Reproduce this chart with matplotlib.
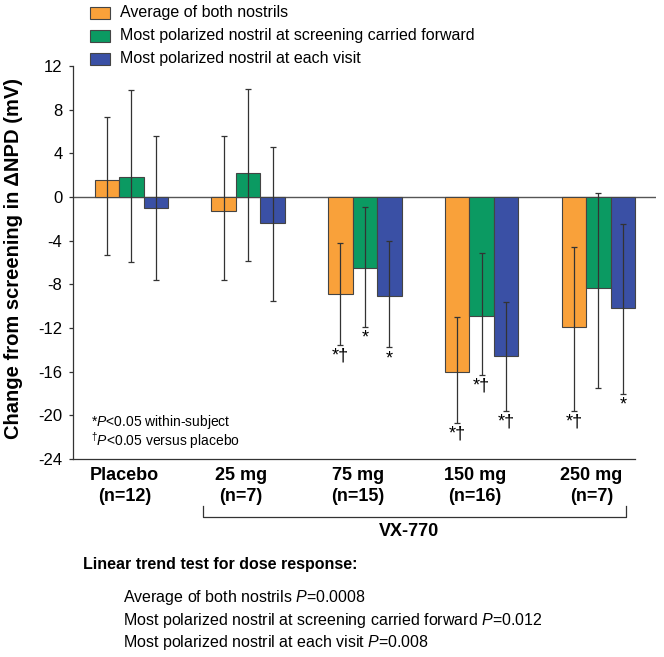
import matplotlib.pyplot as plt
import matplotlib.transforms as mtransforms
from matplotlib.patches import Rectangle
import numpy as np

plt.rcParams['font.family'] = ['Liberation Sans', 'DejaVu Sans']
plt.rcParams['mathtext.fontset'] = 'custom'
plt.rcParams['mathtext.rm'] = 'Liberation Sans'
plt.rcParams['mathtext.it'] = 'Liberation Sans:italic'
plt.rcParams['axes.unicode_minus'] = False

# datos
groups = ['Placebo\n(n=12)', '25 mg\n(n=7)', '75 mg\n(n=15)', '150 mg\n(n=16)', '250 mg\n(n=7)']
series = ['Average of both nostrils',
          'Most polarized nostril at screening carried forward',
          'Most polarized nostril at each visit']
colors = ['#F9A13A', '#0B9A62', '#3A50A5']

avg_both = [1.56, -1.25, -8.9, -16.0, -11.93]
avg_upper = [7.35, 5.59, -4.18, -11.0, -4.55]
avg_lower = [-5.3, -7.6, -13.55, -20.67, -19.57]

scr_fwd = [1.86, 2.17, -6.47, -10.9, -8.36]
scr_upper = [9.8, 9.86, -0.89, -5.16, 0.4]
scr_lower = [-5.92, -5.83, -11.88, -16.33, -17.52]

each_visit = [-1.04, -2.41, -9.04, -14.53, -10.19]
vis_upper = [5.59, 4.6, -4.0, -9.64, -2.5]
vis_lower = [-7.6, -9.5, -13.77, -19.57, -18.04]

sig_avg = ['', '', '*\u2020', '*\u2020', '*\u2020']
sig_scr = ['', '', '*', '*\u2020', '']
sig_vis = ['', '', '*', '*\u2020', '*']

yticks = [-24, -20, -16, -12, -8, -4, 0, 4, 8, 12]

trend_lines = ['Average of both nostrils $P$=0.0008',
               'Most polarized nostril at screening carried forward $P$=0.012',
               'Most polarized nostril at each visit $P$=0.008']

W, H = 664, 657
fig = plt.figure(figsize=(W / 100, H / 100), dpi=100)
ax = fig.add_axes([72.9 / W, 1 - 459 / H, (656 - 72.9) / W, (459 - 66) / H])

def fx(px):
    return px / W

def fy(py):
    return 1 - py / H

x = np.arange(len(groups))
bw = 0.21
vals = [avg_both, scr_fwd, each_visit]
uppers = [avg_upper, scr_upper, vis_upper]
lowers = [avg_lower, scr_lower, vis_lower]
sigs = [sig_avg, sig_scr, sig_vis]

for k in range(3):
    xs = x + (k - 1) * bw
    v = np.array(vals[k])
    up = np.array(uppers[k])
    lo = np.array(lowers[k])
    ax.bar(xs, v, width=bw, color=colors[k], edgecolor='#444444', linewidth=0.8, zorder=2)
    ax.errorbar(xs, v, yerr=[v - lo, up - v], fmt='none', ecolor='#333333',
                elinewidth=0.9, capsize=2.5, capthick=0.9, zorder=3)
    for i in range(len(groups)):
        if sigs[k][i]:
            ax.text(xs[i], lo[i] - 0.25, sigs[k][i], ha='center', va='top', fontsize=13)

ax.axhline(0, color='#555555', linewidth=1, zorder=1)

ax.set_xlim(-0.502, 4.494)
ax.set_ylim(-24, 12)
ax.set_yticks(yticks)
ax.set_yticklabels([str(t) for t in yticks], fontsize=12)
ax.tick_params(axis='y', length=3, width=0.9, pad=4.5, color='#333333')
ax.set_xticks([])
for s in ['top', 'right']:
    ax.spines[s].set_visible(False)
for s in ['left', 'bottom']:
    ax.spines[s].set_color('#333333')
    ax.spines[s].set_linewidth(0.9)
ax.spines['bottom'].set_bounds(-0.502, 2 + 2 + 1.5 * bw)

# etiquetas de grupos
trans = mtransforms.blended_transform_factory(ax.transData, fig.transFigure)
for i, g in enumerate(groups):
    ax.text(i - 0.06, fy(486), g, transform=trans, ha='center', va='center',
            fontsize=13, fontweight='bold', linespacing=1.3)

# llave VX-770
bx0, bx1 = 0.615, 4.237
ax.plot([bx0, bx0, bx1, bx1], [fy(505.7), fy(516.7), fy(516.7), fy(505.7)],
        transform=trans, color='#333333', linewidth=0.9, clip_on=False)
ax.text((bx0 + bx1) / 2 - 0.05, fy(532), 'VX-770', transform=trans, ha='center', va='center',
        fontsize=13, fontweight='bold')

# nota al pie dentro del grafico
fig.text(fx(91), fy(422), '*$P$<0.05 within-subject', ha='left', va='center', fontsize=10)
fig.text(fx(91), fy(441), '$^{\u2020}$$P$<0.05 versus placebo', ha='left', va='center', fontsize=10)

# leyenda
for k in range(3):
    yc = 12.5 + 23 * k
    fig.add_artist(Rectangle((fx(90), fy(yc + 6)), 20 / W, 12 / H, transform=fig.transFigure,
                             facecolor=colors[k], edgecolor='#444444', linewidth=0.8))
    fig.text(fx(120.5), fy(yc), series[k], ha='left', va='center', fontsize=11.5)

# titulo eje y
fig.text(fx(14), fy(259), 'Change from screening in \u0394NPD (mV)', rotation=90,
         ha='center', va='center', fontsize=14.5, fontweight='bold')

# prueba de tendencia
fig.text(fx(82.6), fy(565), 'Linear trend test for dose response:', ha='left', va='center',
         fontsize=11.5, fontweight='bold')
for j, t in enumerate(trend_lines):
    fig.text(fx(122.8), fy(597.3 + 22.7 * j), t, ha='left', va='center', fontsize=11.5)

fig.savefig('out.png', dpi=100)
